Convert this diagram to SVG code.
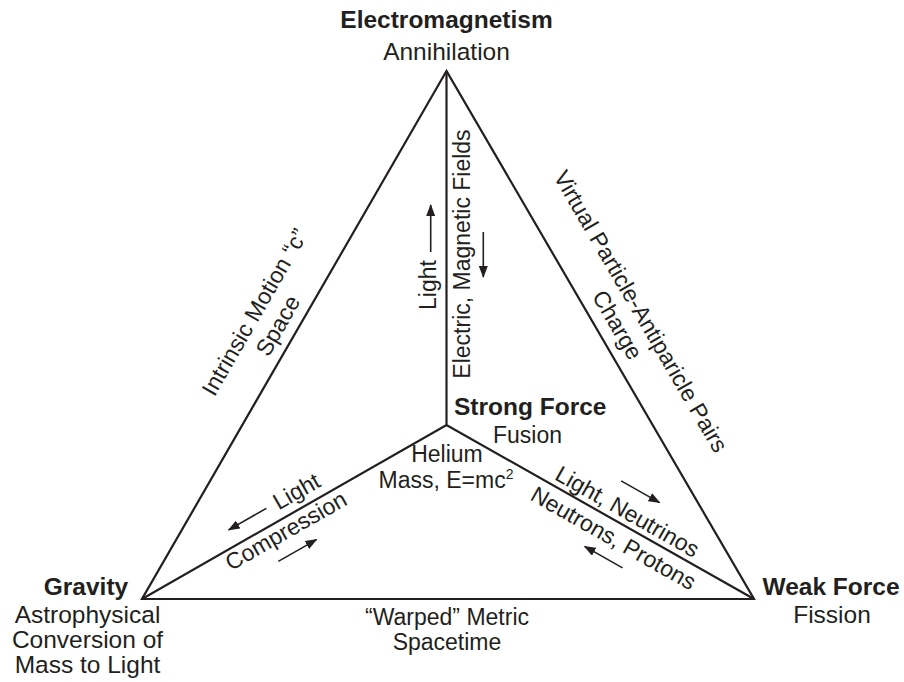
<svg xmlns="http://www.w3.org/2000/svg" width="904" height="682" viewBox="0 0 904 682">
<style>
text{font-family:"Liberation Sans",Arial,sans-serif;fill:#231f20}
.v{font-size:24.5px}
.b{font-weight:bold}
.t{font-size:23px}
.m{text-anchor:middle}
.edge{stroke:#231f20;stroke-width:2.2;fill:none;stroke-linejoin:miter}
.arr{stroke:#231f20;stroke-width:1.6;fill:none}
</style>
<defs>
<marker id="ah" markerWidth="12" markerHeight="9" refX="11" refY="4.5" orient="auto" markerUnits="userSpaceOnUse">
<path d="M0,0 L12,4.5 L0,9 Z" fill="#231f20"/>
</marker>
</defs>
<g id="connectors">
<path class="edge" d="M446.5,71 L142,599 L754,599 Z"/>
<path class="edge" d="M446.5,71 L446.5,425 M142,599 L446.5,425 L754,599"/>
</g>
<g id="electromagnetism">
<text class="v b m" x="446.5" y="28">Electromagnetism</text>
<text class="v m" x="446.5" y="60">Annihilation</text>
</g>
<g id="strong-force">
<text class="v b" x="454" y="415">Strong Force</text>
<text class="t m" x="527.5" y="443">Fusion</text>
<text class="t m" x="447" y="462">Helium</text>
<text class="t m" x="446" y="488">Mass, E=mc<tspan font-size="14" dy="-9">2</tspan></text>
</g>
<g id="gravity">
<text class="v b m" x="86" y="595">Gravity</text>
<text class="v m" x="87.5" y="623">Astrophysical</text>
<text class="v m" x="87.5" y="648">Conversion of</text>
<text class="v m" x="87.5" y="673">Mass to Light</text>
</g>
<g id="weak-force">
<text class="v b m" x="831" y="595">Weak Force</text>
<text class="v m" x="832" y="623">Fission</text>
</g>
<g id="edge-bottom">
<text class="t m" x="447" y="625">“Warped” Metric</text>
<text class="t m" x="447" y="650">Spacetime</text>
</g>
<g id="edge-left" transform="translate(294.25,335) rotate(-60.03)">
<text class="t m" x="0" y="-38">Intrinsic Motion “c”</text>
<text class="t m" x="0" y="-11">Space</text>
</g>
<g id="edge-right" transform="translate(600.25,335) rotate(59.74)">
<text class="t m" x="0" y="-39">Virtual Particle-Antiparicle Pairs</text>
<text class="t m" x="0" y="-12">Charge</text>
</g>
<g id="edge-vertical" transform="translate(446.5,425) rotate(-90)">
<text class="t" x="115" y="-10.5">Light</text>
<path class="arr" d="M173,-15.8 L220,-15.8" marker-end="url(#ah)"/>
<text class="t m" x="171" y="23.5">Electric, Magnetic Fields</text>
<path class="arr" d="M193,36.8 L148,36.8" marker-end="url(#ah)"/>
</g>
<g id="edge-center-right" transform="translate(446.5,425) rotate(29.54)">
<text class="t m" x="200" y="-6">Light, Neutrinos</text>
<path class="arr" d="M179.5,-37.5 L223.6,-37.5" marker-end="url(#ah)"/>
<text class="t m" x="201" y="24">Neutrons, Protons</text>
<path class="arr" d="M223.6,37.5 L180,37.5" marker-end="url(#ah)"/>
</g>
<g id="edge-center-left" transform="translate(142,599) rotate(-29.74)">
<text class="t m" x="187.6" y="-9">Light</text>
<path class="arr" d="M153,-17 L109.5,-17" marker-end="url(#ah)"/>
<text class="t m" x="158.8" y="20">Compression</text>
<path class="arr" d="M137,35 L181,35" marker-end="url(#ah)"/>
</g>
</svg>
